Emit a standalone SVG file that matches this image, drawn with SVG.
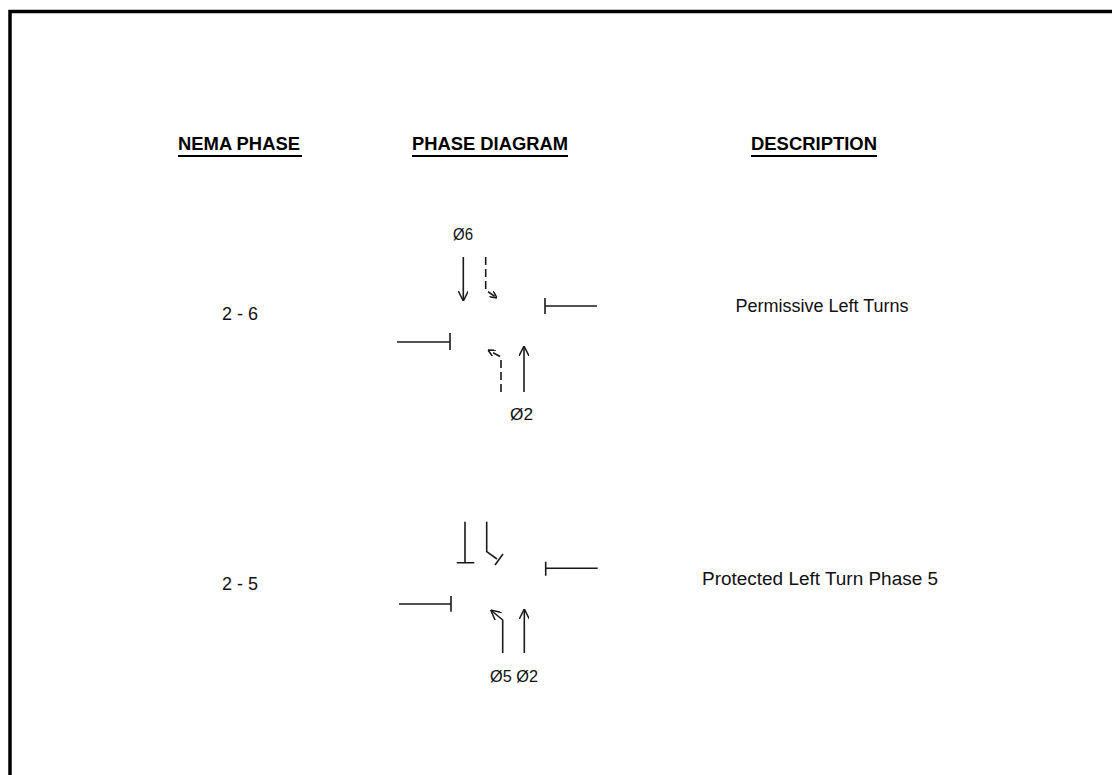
<svg xmlns="http://www.w3.org/2000/svg" width="1112" height="775" viewBox="0 0 1112 775">
  <style>
    .hdr { font-family: "Liberation Sans", Arial, sans-serif; font-weight: bold; font-size: 18px; fill: #000; }
    .txt { font-family: "Liberation Sans", Arial, sans-serif; font-size: 18px; fill: #111; }
    .ph { font-family: "Liberation Sans", Arial, sans-serif; font-size: 17px; fill: #111; }
    .ln { stroke: #1a1a1a; stroke-width: 1.6; fill: none; }
    .dash { stroke: #1a1a1a; stroke-width: 1.6; fill: none; stroke-dasharray: 8 4; }
    .ul { stroke: #000; stroke-width: 2; }
  </style>
  <defs>
    <marker id="head" viewBox="0 0 10 10" refX="10" refY="5" markerWidth="10" markerHeight="10" markerUnits="userSpaceOnUse" orient="auto">
      <path d="M0,0 L10,5 L0,10" fill="none" stroke="#1a1a1a" stroke-width="1.5"/>
    </marker>
    <marker id="smallhead" viewBox="0 0 10 10" refX="10" refY="5" markerWidth="7" markerHeight="7" markerUnits="userSpaceOnUse" orient="auto">
      <path d="M0,0 L10,5 L0,10" fill="none" stroke="#1a1a1a" stroke-width="2.2"/>
    </marker>
  </defs>
  <rect width="1112" height="775" fill="#fff"/>
  <path d="M10,780 V11.5 H1115" fill="none" stroke="#000" stroke-width="3.5"/>

  <g id="headers">
    <text class="hdr" x="178" y="150" textLength="122" lengthAdjust="spacingAndGlyphs">NEMA PHASE</text>
    <line class="ul" x1="178" y1="156" x2="302" y2="156"/>
    <text class="hdr" x="412" y="150" textLength="156" lengthAdjust="spacingAndGlyphs">PHASE DIAGRAM</text>
    <line class="ul" x1="412" y1="156" x2="568" y2="156"/>
    <text class="hdr" x="751" y="150" textLength="126" lengthAdjust="spacingAndGlyphs">DESCRIPTION</text>
    <line class="ul" x1="751" y1="156" x2="877" y2="156"/>
  </g>

  <g id="row-2-6">
    <text class="txt" x="222" y="320">2 - 6</text>
    <text class="txt" x="822" y="312" text-anchor="middle">Permissive Left Turns</text>
  </g>

  <g id="diagram-2-6">
    <text class="ph" x="453" y="240" textLength="20" lengthAdjust="spacingAndGlyphs">Ø6</text>
    <text class="ph" x="510" y="420" textLength="23" lengthAdjust="spacingAndGlyphs">Ø2</text>
  </g>

  <g id="row-2-5">
    <text class="txt" x="222" y="590">2 - 5</text>
    <text class="txt" x="820" y="585" text-anchor="middle" textLength="236" lengthAdjust="spacingAndGlyphs">Protected Left Turn Phase 5</text>
  </g>

  <g id="diagram-2-5">
    <text class="ph" x="490" y="682" textLength="48" lengthAdjust="spacingAndGlyphs">Ø5 Ø2</text>
  </g>

  <g id="connectors">
    <!-- diagram 2-6 -->
    <line class="ln" x1="463.3" y1="257" x2="463.3" y2="301" marker-end="url(#head)"/>
    <path class="dash" d="M485.7,257 V290 L497,298" marker-end="url(#smallhead)"/>
    <path class="ln" d="M545,306 H597 M545,298 V314"/>
    <path class="ln" d="M397,342 H450 M450,333 V350"/>
    <path class="dash" d="M501,392 V357 L488,350" marker-end="url(#smallhead)"/>
    <line class="ln" x1="524" y1="392" x2="524" y2="346" marker-end="url(#head)"/>

    <!-- diagram 2-5 -->
    <path class="ln" d="M465,521.7 V562.7 M456.7,562.7 H474.3"/>
    <path class="ln" d="M486.7,521.7 V551.7 L497,559 M495,565 L503,554"/>
    <path class="ln" d="M545.7,568.3 H597.7 M545.7,561.7 V575.7"/>
    <path class="ln" d="M399,604 H451 M451,596 V611.7"/>
    <path class="ln" d="M502.7,653 V620 L490.7,610" marker-end="url(#head)"/>
    <line class="ln" x1="524.3" y1="653" x2="524.3" y2="609" marker-end="url(#head)"/>
  </g>
</svg>
